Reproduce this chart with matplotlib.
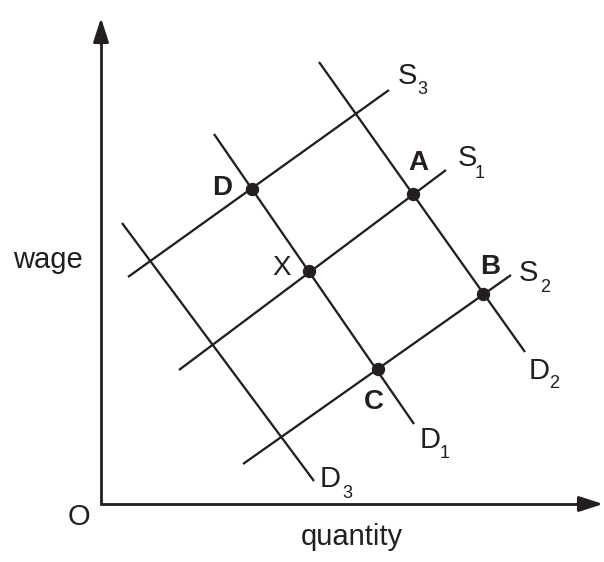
import numpy as np
import matplotlib
matplotlib.use("Agg")
import matplotlib.pyplot as plt

# curves as (quantity, wage) endpoints, origin at the corner of the axes
curve_names = ["S3", "S1", "S2", "D2", "D1", "D3"]
curve_q = [(27, 288), (78, 345), (142, 410), (218, 424), (113, 313), (21, 213)]
curve_w = [(227, 414), (134, 334), (40, 229), (442, 152), (370, 80), (281, 23)]

# equilibrium points
point_names = ["D", "A", "X", "B", "C"]
point_q = [151, 312, 208, 382, 277]
point_w = [315, 310, 233, 210, 135]

# label positions (main letter, subscript)
curve_label_pos = {
    "S3": ((306, 428), (321, 414)),
    "S1": ((366, 346), (379, 331)),
    "S2": ((427, 231), (444, 217)),
    "D2": ((438, 133), (453, 120)),
    "D1": ((329, 64), (344, 50)),
    "D3": ((229, 25), (246, 11)),
}
point_label_pos = {"D": (121, 316), "A": (317, 341), "X": (181, 236),
                   "B": (389, 237), "C": (273, 102)}

INK = "#231f20"
FONT = "Liberation Sans"


def main():
    fig = plt.figure(figsize=(6.04, 5.62), dpi=100)
    ax = fig.add_axes([0, 0, 1, 1])
    ax.set_xlim(-101, 503)
    ax.set_ylim(-58, 504)
    ax.axis("off")

    # axes with arrow heads
    ax.plot([0, 0, 484], [468, 0, 0], color=INK, lw=2.0,
            solid_joinstyle="miter", solid_capstyle="butt")
    style = "-|>,head_length=1.45,head_width=0.47"
    ax.annotate("", xy=(0, 486), xytext=(0, 460),
                arrowprops=dict(arrowstyle=style, color=INK, lw=2.0,
                                shrinkA=0, shrinkB=0, mutation_scale=10))
    ax.annotate("", xy=(502, 0), xytext=(476, 0),
                arrowprops=dict(arrowstyle=style, color=INK, lw=2.0,
                                shrinkA=0, shrinkB=0, mutation_scale=10))

    for name, q, w in zip(curve_names, curve_q, curve_w):
        ax.plot(q, w, color=INK, lw=1.65, solid_capstyle="butt")
        (mx, my), (sx, sy) = curve_label_pos[name]
        ax.text(mx, my, name[0], fontsize=21, family=FONT, color=INK,
                ha="center", va="center")
        ax.text(sx, sy, name[1], fontsize=13, family=FONT, color=INK,
                ha="center", va="center")

    ax.plot(point_q, point_w, "o", color=INK, ms=8.6)
    for name in point_names:
        x, y = point_label_pos[name]
        weight = "normal" if name == "X" else "bold"
        ax.text(x, y, name, fontsize=20, family=FONT, color=INK,
                weight=weight, ha="center", va="center")

    ax.text(-53, 244, "wage", fontsize=21, family=FONT, color=INK,
            ha="center", va="center")
    ax.text(-22, -13, "O", fontsize=21, family=FONT, color=INK,
            ha="center", va="center")
    ax.text(251, -33, "quantity", fontsize=21, family=FONT, color=INK,
            ha="center", va="center")

    fig.savefig("out.png", dpi=100)


if __name__ == "__main__":
    main()
